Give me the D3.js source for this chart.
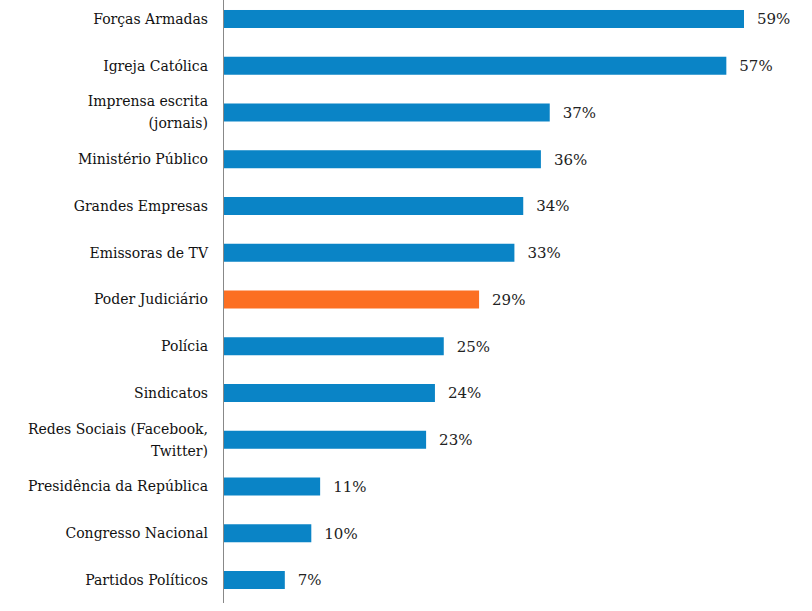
<!DOCTYPE html>
<html><head><meta charset="utf-8">
<script src="https://cdn.jsdelivr.net/npm/d3@7"></script>
<style>body{margin:0;background:#fff}</style>
</head><body>
<svg id="c" width="812" height="611"></svg>
<script>
const categories = [
  ["Forças Armadas"],
  ["Igreja Católica"],
  ["Imprensa escrita", "(jornais)"],
  ["Ministério Público"],
  ["Grandes Empresas"],
  ["Emissoras de TV"],
  ["Poder Judiciário"],
  ["Polícia"],
  ["Sindicatos"],
  ["Redes Sociais (Facebook,", "Twitter)"],
  ["Presidência da República"],
  ["Congresso Nacional"],
  ["Partidos Políticos"]
];
const values = [59, 57, 37, 36, 34, 33, 29, 25, 24, 23, 11, 10, 7];
const highlight = ["Poder Judiciário"];

const svg = d3.select("#c");
const font = "'DejaVu Serif', serif";
const x = d3.scaleLinear().domain([0, 59]).range([223, 744]);
const y = d3.scaleBand().domain(d3.range(categories.length)).range([-4.5, 603.5]).paddingInner(0.615).paddingOuter(0.31);

svg.selectAll("rect.bar").data(values).join("rect")
  .attr("x", x(0)).attr("y", (d, i) => y(i))
  .attr("width", d => x(d) - x(0)).attr("height", y.bandwidth())
  .attr("fill", (d, i) => highlight.includes(categories[i][0]) ? "#FC6F22" : "#0A84C6");

svg.selectAll("text.val").data(values).join("text")
  .attr("x", d => x(d) + 13).attr("y", (d, i) => y(i) + y.bandwidth() / 2)
  .attr("dy", "0.36em").attr("font-family", font).attr("font-size", 15).attr("fill", "#222")
  .text(d => d + "%");

const lab = svg.selectAll("text.cat").data(categories).join("text")
  .attr("text-anchor", "end").attr("font-family", font).attr("font-size", 14).attr("fill", "#111");
lab.each(function(lines, i) {
  const cy = y(i) + y.bandwidth() / 2;
  const lh = 22;
  lines.forEach((t, j) => {
    d3.select(this).append("tspan").attr("x", 208)
      .attr("y", cy + (j - (lines.length - 1) / 2) * lh).attr("dy", "0.35em").text(t);
  });
});

svg.append("line").attr("x1", x(0) + 0.5).attr("x2", x(0) + 0.5).attr("y1", 0).attr("y2", 603)
  .attr("stroke", "#888").attr("stroke-width", 1);
</script>
</body></html>
